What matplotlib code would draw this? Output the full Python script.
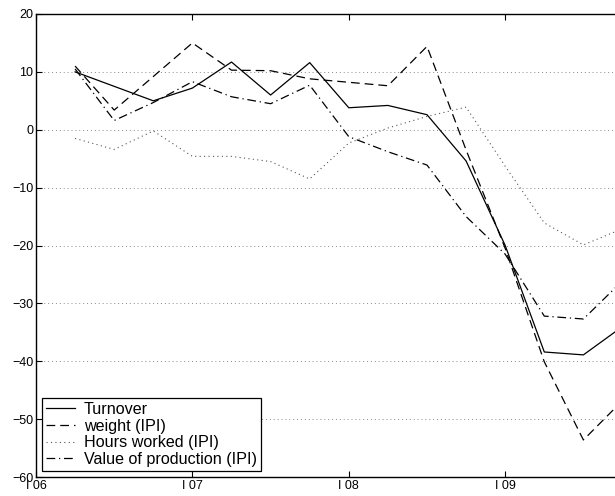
import numpy as np
import matplotlib
matplotlib.use("Agg")
import matplotlib.pyplot as plt

plt.rcParams['font.family'] = ['Liberation Sans', 'DejaVu Sans']

# quarters counted from I 06 (0); first observation is II 06
quarters = list(range(1, 16))
turnover = [10.0, 7.5, 5.0, 7.2, 11.7, 6.0, 11.6, 3.8, 4.2, 2.6, -5.4, -20.0, -38.4, -38.9, -34.0]
weight = [11.0, 3.4, 9.2, 15.0, 10.3, 10.2, 8.8, 8.2, 7.6, 14.4, -3.5, -20.5, -40.1, -53.6, -46.8]
hours = [-1.5, -3.4, -0.2, -4.6, -4.6, -5.5, -8.5, -2.3, 0.3, 2.3, 3.9, -6.3, -16.1, -19.9, -17.1]
value_prod = [10.5, 1.6, 4.7, 8.3, 5.7, 4.5, 7.7, -1.2, -3.8, -6.1, -15.0, -21.5, -32.2, -32.7, -26.1]

year_ticks = [0, 4, 8, 12]
year_labels = ["I 06", "I 07", "I 08", "I 09"]
y_ticks = [-60, -50, -40, -30, -20, -10, 0, 10, 20]

fig = plt.figure(figsize=(6.15, 4.96), dpi=100)
ax = fig.add_axes([36 / 615, 1 - 477 / 496, 1 - 36 / 615, (477 - 14) / 496])

ax.plot(quarters, turnover, color='black', linewidth=0.9, linestyle='-', label='Turnover')
ax.plot(quarters, weight, color='black', linewidth=0.9, linestyle=(0, (7, 4)), label='weight (IPI)')
ax.plot(quarters, hours, color='#555555', linewidth=0.8, linestyle=(0, (1, 3)), label='Hours worked (IPI)')
ax.plot(quarters, value_prod, color='black', linewidth=0.9, linestyle=(0, (7, 3, 1, 3)), label='Value of production (IPI)')

ax.set_xlim(0, (615 - 36) / 39.1)
ax.set_ylim(-60, 20)
ax.set_xticks(year_ticks)
ax.set_xticklabels(year_labels)
ax.set_yticks(y_ticks)
ax.set_yticklabels([str(v).replace('-', '\u2212') for v in y_ticks])

for yv in y_ticks[1:-1]:
    ax.axhline(yv, color='#888888', linestyle=(0, (1, 3)), linewidth=0.7, zorder=0)

ax.tick_params(direction='in', length=4, width=0.8, labelsize=9, top=True, right=False, pad=2)
ax.tick_params(axis='y', pad=2)
ax.spines['right'].set_visible(False)
for s in ['left', 'top', 'bottom']:
    ax.spines[s].set_linewidth(1.0)

leg = ax.legend(loc='lower left', fontsize=11.6, frameon=True, fancybox=False,
                edgecolor='black', framealpha=1, handlelength=1.8, borderpad=0.25,
                labelspacing=0.1, handletextpad=0.55, borderaxespad=0.38)
leg.get_frame().set_linewidth(0.9)

fig.savefig("out.png", dpi=100)
